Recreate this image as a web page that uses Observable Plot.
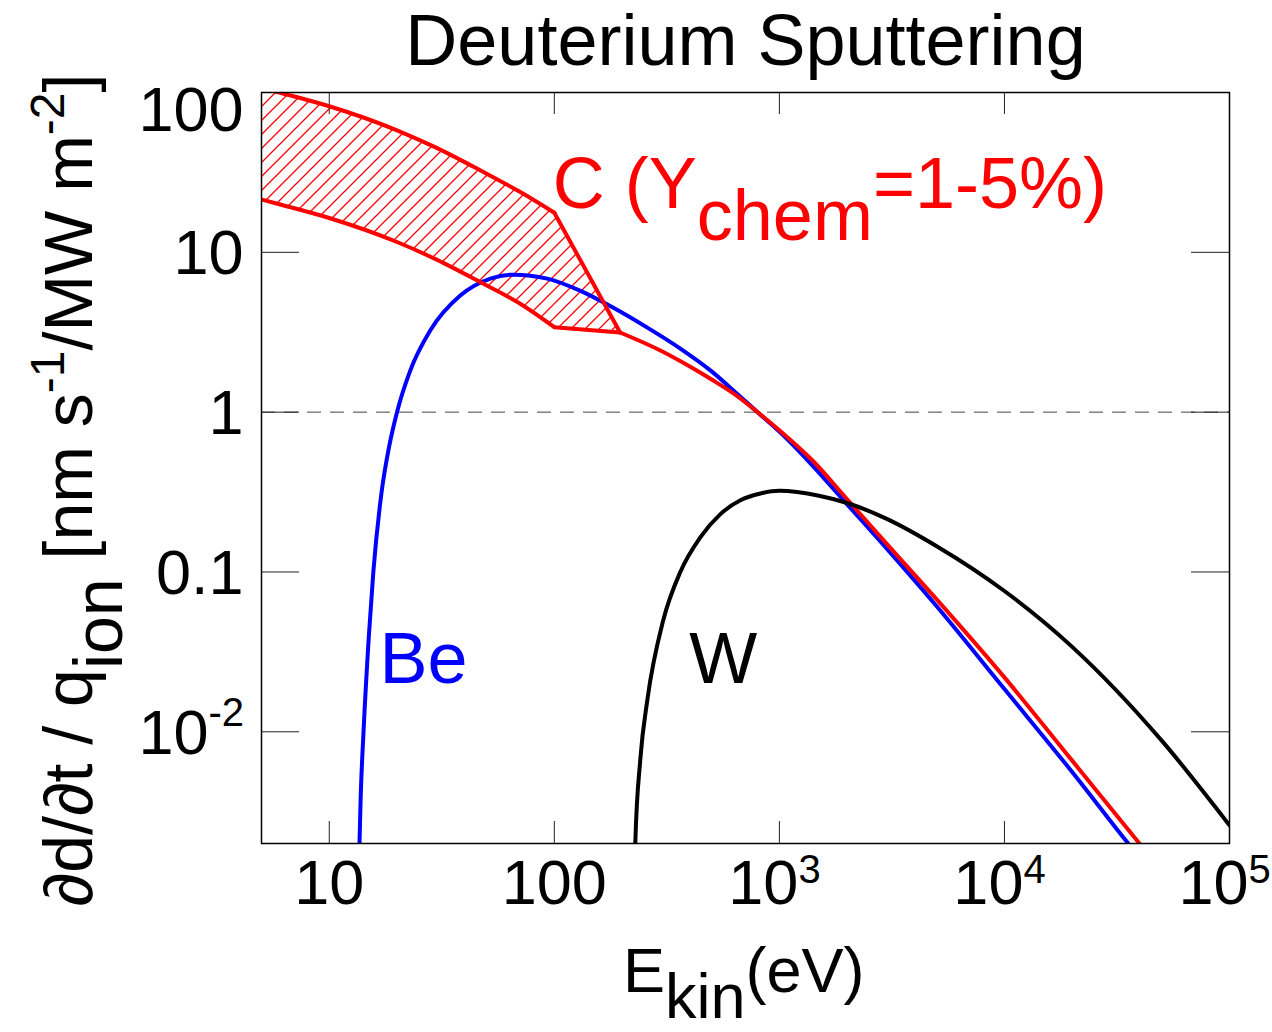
<!DOCTYPE html>
<html>
<head>
<meta charset="utf-8">
<script src="https://cdn.jsdelivr.net/npm/d3@7"></script>
<script src="https://cdn.jsdelivr.net/npm/@observablehq/plot@0.6"></script>
<style>
  body { margin: 0; background: #fff; font-family: "Liberation Sans", Arial, sans-serif; }
  #title {
    width: 1272px; height: 60px; box-sizing: border-box; padding-left: 219px;
    font-size: 72px; line-height: 80px; text-align: center; white-space: nowrap; color: #000;
  }
  #chart svg { display: block; overflow: visible; }
</style>
</head>
<body>
<div id="title">Deuterium Sputtering</div>
<div id="chart"></div>
<script>
// Erosion rate per ion heat flux [nm s^-1 / MW m^-2] versus D ion energy [eV]

// Beryllium, physical sputtering
const beEnergy = [13.5, 13.8, 14.2, 15, 15.7, 17, 18.5, 20, 22.9, 28.1, 38.2, 52, 66, 93, 130, 183, 259, 363, 500, 650, 800, 1000, 1400, 2000, 3000, 5000, 10000, 20000, 34500, 40000];
const beRate   = [0.0012, 0.004, 0.01, 0.04, 0.1, 0.3, 0.62, 1.0, 1.82, 3.24, 5.36, 6.85, 7.25, 6.85, 5.76, 4.5, 3.38, 2.5, 1.8, 1.3, 1.0, 0.755, 0.465, 0.265, 0.14, 0.061, 0.0185, 0.0056, 0.0021, 0.00162];

// Tungsten, physical sputtering
const wEnergy = [227, 229, 241, 259, 305, 363, 446, 547, 671, 824, 1000, 1500, 2000, 3000, 5000, 10000, 20000, 50000, 100000];
const wRate   = [0.0008, 0.002, 0.0067, 0.0158, 0.05, 0.1, 0.165, 0.23, 0.281, 0.31, 0.322, 0.3, 0.27, 0.215, 0.145, 0.076, 0.034, 0.0088, 0.0026];

// Carbon, chemical erosion band (Y_chem = 1% lower edge, 5% upper edge)
const cBandEnergy = [5, 6, 10, 20, 30, 47, 70, 100, 196];
const cBandHigh   = [107, 100, 82, 58, 45, 32.5, 24, 17.7, 3.15];
const cBandLow    = [21.4, 20, 16.4, 11.6, 9.0, 6.5, 4.8, 3.4, 3.15];

// Carbon, physical sputtering above the band
const cEnergy = [196, 296, 400, 500, 650, 800, 1000, 1400, 2000, 3000, 5000, 10000, 20000, 39800, 45000];
const cRate   = [3.15, 2.43, 1.93, 1.6, 1.26, 1.0, 0.77, 0.5, 0.285, 0.15, 0.0674, 0.0219, 0.0066, 0.002, 0.00162];

// Axis ticks
const xTickValues = [10, 100, 1000, 10000, 100000];
const xTickBase   = ["10", "100", "10", "10", "10"];
const xTickExp    = ["", "", "3", "4", "5"];
const yTickValues = [0.01, 0.1, 1, 10, 100];
const yTickBase   = ["10", "0.1", "1", "10", "100"];
const yTickExp    = ["-2", "", "", "", ""];

const be = beEnergy.map((E, i) => ({E, Y: beRate[i]}));
const w = wEnergy.map((E, i) => ({E, Y: wRate[i]}));
const band = cBandEnergy.map((E, i) => ({E, high: cBandHigh[i], low: cBandLow[i]}));
const cPhys = cEnergy.map((E, i) => ({E, Y: cRate[i]}));
const xTicks = xTickValues.map((v, i) => ({v, base: xTickBase[i], exp: xTickExp[i]}));
const yTicks = yTickValues.map((v, i) => ({v, base: yTickBase[i], exp: yTickExp[i]}));

const bandSmooth = band.filter(d => d.E <= 100);
const bandKnee = band.filter(d => d.E >= 100);

const W = 1272, H = 972, mT = 32, mL = 261, mR = 43, mB = 189;
const innerW = W - mL - mR, innerH = H - mT - mB;
const tickLenY = 38, tickLenX = 22;
const FS = 63;
const LW = 4;

const plot = Plot.plot({
  width: W, height: H,
  marginTop: mT, marginLeft: mL, marginRight: mR, marginBottom: mB,
  x: {type: "log", domain: [5, 1e5], axis: null},
  y: {type: "log", domain: [0.002, 100], axis: null},
  style: {fontFamily: "'Liberation Sans', Arial, sans-serif", background: "#fff", color: "#000"},
  marks: [
    // hatched chemical-erosion band
    Plot.areaY(bandSmooth, {x: "E", y1: "low", y2: "high", fill: "url(#chem-hatch)", curve: "monotone-x", clip: true}),
    Plot.areaY(bandKnee, {x: "E", y1: "low", y2: "high", fill: "url(#chem-hatch)", curve: "linear", clip: true}),
    // unit reference line
    Plot.ruleY([1], {stroke: "#444", strokeWidth: 1, strokeDasharray: "14,9"}),
    // ticks on all four sides, pointing inward
    Plot.tickY(yTicks, {y: "v", stroke: "#222", insetRight: innerW - tickLenY}),
    Plot.tickY(yTicks, {y: "v", stroke: "#222", insetLeft: innerW - tickLenY}),
    Plot.tickX(xTicks, {x: "v", stroke: "#222", insetTop: innerH - tickLenX}),
    Plot.tickX(xTicks, {x: "v", stroke: "#222", insetBottom: innerH - tickLenX}),
    // curves
    Plot.line(be, {x: "E", y: "Y", stroke: "#0000ff", strokeWidth: LW, curve: "monotone-x", clip: true}),
    Plot.line(bandSmooth, {x: "E", y: "high", stroke: "#ff0000", strokeWidth: LW, curve: "monotone-x", clip: true}),
    Plot.line(bandSmooth, {x: "E", y: "low", stroke: "#ff0000", strokeWidth: LW, curve: "monotone-x", clip: true}),
    Plot.line(bandKnee, {x: "E", y: "high", stroke: "#ff0000", strokeWidth: LW, curve: "linear", clip: true}),
    Plot.line(bandKnee, {x: "E", y: "low", stroke: "#ff0000", strokeWidth: LW, curve: "linear", clip: true}),
    Plot.line(cPhys, {x: "E", y: "Y", stroke: "#ff0000", strokeWidth: LW, curve: "monotone-x", clip: true}),
    Plot.line(w, {x: "E", y: "Y", stroke: "#000", strokeWidth: LW, curve: "monotone-x", clip: true}),
    Plot.frame({stroke: "#000", strokeWidth: 1.5}),
    // x tick labels
    Plot.text(xTicks.filter(d => !d.exp), {x: "v", text: "base", frameAnchor: "bottom", dy: 60, fontSize: FS}),
    Plot.text(xTicks.filter(d => d.exp), {x: "v", text: "base", frameAnchor: "bottom", dy: 60, dx: 19, textAnchor: "end", fontSize: FS}),
    Plot.text(xTicks.filter(d => d.exp), {x: "v", text: "exp", frameAnchor: "bottom", dy: 39, dx: 19, textAnchor: "start", fontSize: 40}),
    // y tick labels
    Plot.text(yTicks.filter(d => !d.exp && d.v < 100), {y: "v", text: "base", frameAnchor: "left", dx: -18, dy: 2, textAnchor: "end", fontSize: FS}),
    Plot.text(yTicks.filter(d => d.v === 100), {y: "v", text: "base", frameAnchor: "left", dx: -18, dy: 18, textAnchor: "end", fontSize: FS}),
    Plot.text(yTicks.filter(d => d.exp), {y: "v", text: "base", frameAnchor: "left", dx: -53, dy: 2, textAnchor: "end", fontSize: FS}),
    Plot.text(yTicks.filter(d => d.exp), {y: "v", text: "exp", frameAnchor: "left", dx: -53, dy: -19, textAnchor: "start", fontSize: 40}),
    // material labels
    Plot.text(["Be"], {x: [16.7], y: [0.028], text: d => d, fill: "#0000ff", fontSize: 72, textAnchor: "start"}),
    Plot.text(["W"], {x: [398], y: [0.028], text: d => d, fill: "#000", fontSize: 72, textAnchor: "start"})
  ]
});

document.getElementById("chart").appendChild(plot);

const svg = d3.select(plot);

// diagonal hatch used by the carbon band
const pattern = svg.insert("defs", ":first-child")
  .append("pattern")
  .attr("id", "chem-hatch")
  .attr("patternUnits", "userSpaceOnUse")
  .attr("width", 14).attr("height", 14);
pattern.append("path")
  .attr("d", "M-1,1L1,-1M0,14L14,0M13,15L15,13")
  .attr("stroke", "#ff0000").attr("stroke-width", 1.3).attr("fill", "none");

const font = "'Liberation Sans', Arial, sans-serif";

// carbon label, anchored in data space
const sx = plot.scale("x"), sy = plot.scale("y");
const cLabel = svg.append("text")
  .attr("x", sx.apply(99)).attr("y", sy.apply(18.8))
  .attr("text-anchor", "start")
  .attr("fill", "#ff0000").attr("font-family", font).attr("font-size", 72);
cLabel.append("tspan").text("C (Y");
cLabel.append("tspan").attr("dy", 32).text("chem");
cLabel.append("tspan").attr("dy", -32).text("=1-5%)");

// x-axis title
const xTitle = svg.append("text")
  .attr("x", 623).attr("y", 932)
  .attr("text-anchor", "start")
  .attr("font-family", font).attr("font-size", FS).attr("fill", "#000");
xTitle.append("tspan").text("E");
xTitle.append("tspan").attr("dy", 26).text("kin");
xTitle.append("tspan").attr("dy", -26).text("(eV)");

// y-axis title
const yTitle = svg.append("text")
  .attr("transform", "translate(92,430) rotate(-90)")
  .attr("text-anchor", "middle")
  .attr("font-family", font).attr("font-size", 68).attr("fill", "#000");
yTitle.append("tspan").text("\u2202d/\u2202t / q");
yTitle.append("tspan").attr("dy", 30).text("ion");
yTitle.append("tspan").attr("dy", -30).text(" [nm s");
yTitle.append("tspan").attr("dy", -28).attr("font-size", 48).text("-1");
yTitle.append("tspan").attr("dy", 28).text("/MW m");
yTitle.append("tspan").attr("dy", -28).attr("font-size", 48).text("-2");
yTitle.append("tspan").attr("dy", 28).text("]");
</script>
</body>
</html>
